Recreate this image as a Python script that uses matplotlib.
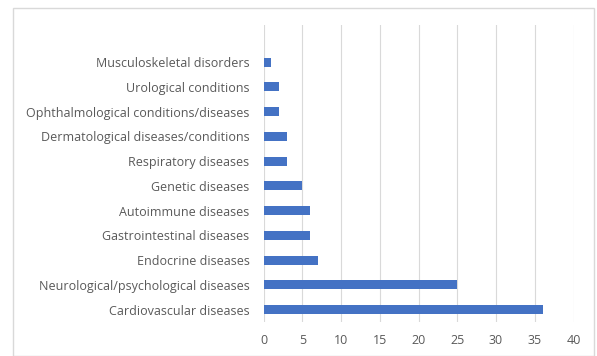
import matplotlib.pyplot as plt
from matplotlib.patches import Rectangle

categories = [
    "Cardiovascular diseases",
    "Neurological/psychological diseases",
    "Endocrine diseases",
    "Gastrointestinal diseases",
    "Autoimmune diseases",
    "Genetic diseases",
    "Respiratory diseases",
    "Dermatological diseases/conditions",
    "Ophthalmological conditions/diseases",
    "Urological conditions",
    "Musculoskeletal disorders",
]
counts = [36, 25, 7, 6, 6, 5, 3, 3, 2, 2, 1]
x_ticks = [0, 5, 10, 15, 20, 25, 30, 35, 40]

plt.rcParams['font.family'] = ['Open Sans', 'DejaVu Sans']
grey = '#595959'

fig = plt.figure(figsize=(5.97, 3.56), dpi=100)
# chart area frame like the Excel export
fig.patches.append(Rectangle((13 / 597, 0), 581 / 597, 1 - 8 / 356,
                             transform=fig.transFigure, fill=False,
                             edgecolor='#d9d9d9', linewidth=1))

ax = fig.add_axes([263.5 / 597, 1 - 322 / 356, 310 / 597, 297 / 356])
ax.barh(range(len(categories)), counts, height=0.37, color='#4472C4', zorder=3)

ax.set_xlim(0, 40)
ax.set_ylim(-0.5, 11.5)
ax.set_xticks(x_ticks)
ax.set_yticks(range(len(categories)))
ax.set_yticklabels(categories)
ax.xaxis.grid(True, color='#d9d9d9', linewidth=0.8, zorder=0)
ax.tick_params(axis='both', length=0, labelsize=9, colors=grey)
ax.tick_params(axis='x', pad=9)
ax.tick_params(axis='y', pad=10)
for s in ax.spines.values():
    s.set_visible(False)

fig.savefig('out.png', dpi=100)
